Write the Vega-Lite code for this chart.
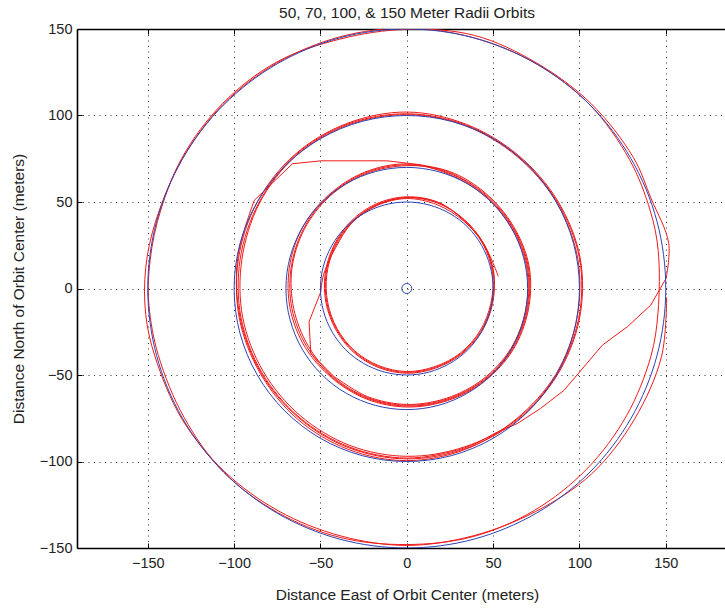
{
  "$schema": "https://vega.github.io/schema/vega-lite/v6.json",
  "width": 648,
  "height": 519,
  "autosize": "none",
  "padding": {"left": 77, "top": 29, "right": 0, "bottom": 60},
  "background": "white",
  "title": {
    "text": "50, 70, 100, & 150 Meter Radii Orbits",
    "font": "Liberation Sans",
    "fontSize": 15.5,
    "fontWeight": "normal",
    "color": "#222222",
    "anchor": "middle",
    "offset": 0,
    "dx": 6
  },
  "config": {
    "view": {"stroke": null},
    "axis": {
      "domainColor": "#000000",
      "domainWidth": 1.6,
      "tickColor": "#000000",
      "tickSize": -5,
      "tickWidth": 1,
      "labelFont": "Liberation Sans",
      "labelFontSize": 14.5,
      "labelColor": "#222222",
      "labelFlush": false,
      "labelOverlap": false,
      "gridColor": "#000000",
      "gridDash": [1, 4.5],
      "gridOpacity": 0.8,
      "gridWidth": 1,
      "titleFont": "Liberation Sans",
      "titleFontSize": 15.5,
      "titleFontWeight": "normal",
      "titleColor": "#222222"
    }
  },
  "datasets": {
    "track": [
      {"leg":1,"i":-2,"x":150.5,"y":-5.0},{"leg":1,"i":-1,"x":147.5,"y":-39.5},
      {"leg":1,"i":0,"x":131.6,"y":-76.0},{"leg":1,"i":1,"x":107.1,"y":-107.1},{"leg":1,"i":2,"x":74.5,"y":-129.0},{"leg":1,"i":3,"x":38.3,"y":-143.0},
      {"leg":1,"i":4,"x":0,"y":-148.5},{"leg":1,"i":5,"x":-38.3,"y":-143.0},{"leg":1,"i":6,"x":-74.3,"y":-128.6},{"leg":1,"i":7,"x":-105.7,"y":-105.7},
      {"leg":1,"i":8,"x":-130.3,"y":-75.3},{"leg":1,"i":9,"x":-145.9,"y":-39.1},{"leg":1,"i":10,"x":-151.2,"y":-15},{"leg":1,"i":11,"x":-151.2,"y":12},
      {"leg":1,"i":12,"x":-145.4,"y":39.0},{"leg":1,"i":13,"x":-129.9,"y":75.0},{"leg":1,"i":14,"x":-106.4,"y":106.4},{"leg":1,"i":15,"x":-75.3,"y":130.3},
      {"leg":1,"i":16,"x":-39.0,"y":145.4},{"leg":1,"i":17,"x":0,"y":150.5},{"leg":1,"i":18,"x":38.8,"y":144.9},{"leg":1,"i":19,"x":75.0,"y":129.9},
      {"leg":1,"i":20,"x":106.1,"y":106.1},{"leg":1,"i":21,"x":129.0,"y":74.5},{"leg":1,"i":22,"x":141.0,"y":45.0},{"leg":1,"i":23,"x":145.6,"y":22.0},
      {"leg":1,"i":24,"x":145.5,"y":-14.0},{"leg":1,"i":25,"x":141.3,"y":-39.5},{"leg":1,"i":26,"x":127.3,"y":-73.5},{"leg":1,"i":27,"x":104.3,"y":-104.3},
      {"leg":1,"i":28,"x":74.0,"y":-128.2},{"leg":1,"i":29,"x":38.4,"y":-143.4},{"leg":1,"i":30,"x":0,"y":-148.0},{"leg":1,"i":31,"x":-38.6,"y":-143.9},
      {"leg":1,"i":32,"x":-74.8,"y":-129.5},{"leg":1,"i":33,"x":-106.1,"y":-106.1},{"leg":1,"i":34,"x":-129.0,"y":-74.5},{"leg":1,"i":35,"x":-143.9,"y":-38.6},
      {"leg":1,"i":36,"x":-149.3,"y":-10},{"leg":1,"i":37,"x":-149.3,"y":10},{"leg":1,"i":38,"x":-144.4,"y":38.7},{"leg":1,"i":39,"x":-130.3,"y":75.3},
      {"leg":1,"i":40,"x":-106.8,"y":106.8},{"leg":1,"i":41,"x":-75.5,"y":130.8},{"leg":1,"i":42,"x":-38.6,"y":144.2},{"leg":1,"i":43,"x":0,"y":149.8},
      {"leg":1,"i":44,"x":39.2,"y":146.3},{"leg":1,"i":45,"x":75.3,"y":130.3},{"leg":1,"i":46,"x":106.8,"y":106.8},{"leg":1,"i":47,"x":131.2,"y":75.8},
      {"leg":1,"i":48,"x":141.5,"y":52.0},{"leg":1,"i":49,"x":151.7,"y":26.2},{"leg":1,"i":50,"x":150.2,"y":5.9},
      {"leg":2,"i":50,"x":150.2,"y":5.9},{"leg":2,"i":51,"x":141.3,"y":-9.6},
      {"leg":2,"i":52,"x":127.8,"y":-22.1},{"leg":2,"i":53,"x":113.3,"y":-32.7},{"leg":2,"i":54,"x":91.1,"y":-58.8},{"leg":2,"i":55,"x":77.4,"y":-69.4},
      {"leg":2,"i":56,"x":63.9,"y":-78.1},{"leg":2,"i":57,"x":50.6,"y":-83.9},
      {"leg":3,"i":57,"x":50.6,"y":-83.9},
      {"leg":3,"i":58,"x":33.5,"y":-92.1},{"leg":3,"i":59,"x":0,"y":-98},{"leg":3,"i":60,"x":-33.3,"y":-91.6},{"leg":3,"i":61,"x":-62.4,"y":-74.3},
      {"leg":3,"i":62,"x":-84.0,"y":-48.5},{"leg":3,"i":63,"x":-96.0,"y":-16.9},{"leg":3,"i":64,"x":-96.5,"y":17.0},{"leg":3,"i":65,"x":-85.7,"y":49.5},
      {"leg":3,"i":66,"x":-64.6,"y":77.0},{"leg":3,"i":67,"x":-34.5,"y":94.9},{"leg":3,"i":68,"x":0,"y":101},{"leg":3,"i":69,"x":34.4,"y":94.4},
      {"leg":3,"i":70,"x":64.3,"y":76.6},{"leg":3,"i":71,"x":87.0,"y":50.3},{"leg":3,"i":72,"x":100.0,"y":17.6},{"leg":3,"i":73,"x":99.5,"y":-17.5},
      {"leg":3,"i":74,"x":86.6,"y":-50.0},{"leg":3,"i":75,"x":63.6,"y":-75.8},
      {"leg":3,"i":76,"x":33.3,"y":-91.6},{"leg":3,"i":77,"x":0,"y":-97},{"leg":3,"i":78,"x":-33.0,"y":-90.7},{"leg":3,"i":79,"x":-61.7,"y":-73.5},
      {"leg":3,"i":80,"x":-83.1,"y":-48.0},{"leg":3,"i":81,"x":-95.0,"y":-16.8},{"leg":3,"i":82,"x":-95.5,"y":16.8},{"leg":3,"i":83,"x":-85.3,"y":49.3},
      {"leg":3,"i":84,"x":-64.3,"y":76.6},{"leg":3,"i":85,"x":-34.4,"y":94.4},{"leg":3,"i":86,"x":0,"y":100.5},{"leg":3,"i":87,"x":34.2,"y":94.0},
      {"leg":3,"i":88,"x":64.0,"y":76.2},{"leg":3,"i":89,"x":86.6,"y":50.0},{"leg":3,"i":90,"x":99.0,"y":17.4},{"leg":3,"i":91,"x":98.5,"y":-17.4},
      {"leg":3,"i":92,"x":86.2,"y":-49.8},{"leg":3,"i":93,"x":63.3,"y":-75.5},
      {"leg":3,"i":94,"x":33.9,"y":-93.0},{"leg":3,"i":95,"x":0,"y":-99.5},{"leg":3,"i":96,"x":-33.9,"y":-93.0},{"leg":3,"i":97,"x":-63.3,"y":-75.5},
      {"leg":3,"i":98,"x":-84.9,"y":-49.0},{"leg":3,"i":99,"x":-97.0,"y":-17.1},{"leg":3,"i":100,"x":-97.5,"y":17.2},{"leg":3,"i":101,"x":-86.6,"y":50.0},
      {"leg":3,"i":102,"x":-64.9,"y":77.4},{"leg":3,"i":103,"x":-34.7,"y":95.4},{"leg":3,"i":104,"x":0,"y":102},{"leg":3,"i":105,"x":34.5,"y":94.9},
      {"leg":3,"i":106,"x":64.6,"y":77.0},{"leg":3,"i":107,"x":87.5,"y":50.5},{"leg":3,"i":108,"x":100.4,"y":17.7},{"leg":3,"i":109,"x":100.0,"y":-17.6},
      {"leg":3,"i":110,"x":87.0,"y":-50.3},{"leg":3,"i":111,"x":64.0,"y":-76.2},
      {"leg":3,"i":112,"x":33.7,"y":-92.6},{"leg":3,"i":113,"x":0,"y":-98.5},{"leg":3,"i":114,"x":-33.5,"y":-92.1},{"leg":3,"i":115,"x":-62.7,"y":-74.7},
      {"leg":3,"i":116,"x":-84.4,"y":-48.8},{"leg":3,"i":117,"x":-96.5,"y":-17.0},{"leg":3,"i":118,"x":-98.0,"y":17.3},{"leg":3,"i":119,"x":-88.3,"y":51.0},
      {"leg":4,"i":119,"x":-88.3,"y":51.0},
      {"leg":4,"i":120,"x":-66.2,"y":72.1},{"leg":4,"i":121,"x":-49.8,"y":73.8},{"leg":4,"i":122,"x":-11.4,"y":73.8},{"leg":4,"i":123,"x":8.1,"y":71.5},
      {"leg":5,"i":123,"x":8.1,"y":71.5},
      {"leg":5,"i":124,"x":24.5,"y":67.2},{"leg":5,"i":125,"x":45.6,"y":54.4},{"leg":5,"i":126,"x":61.5,"y":35.5},{"leg":5,"i":127,"x":70.4,"y":12.4},
      {"leg":5,"i":128,"x":69.9,"y":-12.3},{"leg":5,"i":129,"x":61.1,"y":-35.3},{"leg":5,"i":130,"x":44.7,"y":-53.2},{"leg":5,"i":131,"x":23.4,"y":-64.4},
      {"leg":5,"i":132,"x":0,"y":-68},{"leg":5,"i":133,"x":-23.1,"y":-63.4},{"leg":5,"i":134,"x":-43.1,"y":-51.3},{"leg":5,"i":135,"x":-58.0,"y":-33.5},
      {"leg":5,"i":136,"x":-66.5,"y":-11.7},{"leg":5,"i":137,"x":-67.0,"y":11.8},{"leg":5,"i":138,"x":-59.8,"y":34.5},{"leg":5,"i":139,"x":-45.0,"y":53.6},
      {"leg":5,"i":140,"x":-24.3,"y":66.7},{"leg":5,"i":141,"x":0,"y":71.5},
      {"leg":5,"i":142,"x":24.3,"y":66.7},{"leg":5,"i":143,"x":45.3,"y":54.0},{"leg":5,"i":144,"x":61.1,"y":35.3},{"leg":5,"i":145,"x":69.9,"y":12.3},
      {"leg":5,"i":146,"x":69.4,"y":-12.2},{"leg":5,"i":147,"x":60.6,"y":-35.0},{"leg":5,"i":148,"x":44.4,"y":-52.9},{"leg":5,"i":149,"x":23.3,"y":-63.9},
      {"leg":5,"i":150,"x":0,"y":-67.5},{"leg":5,"i":151,"x":-22.9,"y":-63.0},{"leg":5,"i":152,"x":-42.7,"y":-50.9},{"leg":5,"i":153,"x":-57.2,"y":-33.0},
      {"leg":5,"i":154,"x":-65.5,"y":-11.5},{"leg":5,"i":155,"x":-66.5,"y":11.7},{"leg":5,"i":156,"x":-59.3,"y":34.3},{"leg":5,"i":157,"x":-44.7,"y":53.2},
      {"leg":5,"i":158,"x":-24.1,"y":66.2},{"leg":5,"i":159,"x":0,"y":71},
      {"leg":5,"i":160,"x":24.6,"y":67.7},{"leg":5,"i":161,"x":46.0,"y":54.8},{"leg":5,"i":162,"x":61.9,"y":35.8},{"leg":5,"i":163,"x":70.9,"y":12.5},
      {"leg":5,"i":164,"x":70.4,"y":-12.4},{"leg":5,"i":165,"x":61.5,"y":-35.5},{"leg":5,"i":166,"x":45.0,"y":-53.6},{"leg":5,"i":167,"x":23.6,"y":-64.8},
      {"leg":5,"i":168,"x":0,"y":-68.5},{"leg":5,"i":169,"x":-23.3,"y":-63.9},{"leg":5,"i":170,"x":-43.4,"y":-51.7},{"leg":5,"i":171,"x":-58.9,"y":-34.0},
      {"leg":5,"i":172,"x":-67.5,"y":-11.9},{"leg":5,"i":173,"x":-68.0,"y":12.0},{"leg":5,"i":174,"x":-60.6,"y":35.0},{"leg":5,"i":175,"x":-45.3,"y":54.0},
      {"leg":5,"i":176,"x":-24.5,"y":67.2},{"leg":5,"i":177,"x":0,"y":72},
      {"leg":5,"i":178,"x":24.1,"y":66.2},{"leg":5,"i":179,"x":45.0,"y":53.6},{"leg":5,"i":180,"x":60.6,"y":35.0},{"leg":5,"i":181,"x":69.4,"y":12.2},
      {"leg":5,"i":182,"x":68.9,"y":-12.2},{"leg":5,"i":183,"x":60.2,"y":-34.8},{"leg":5,"i":184,"x":44.0,"y":-52.5},{"leg":5,"i":185,"x":23.1,"y":-63.4},
      {"leg":5,"i":186,"x":0,"y":-67},{"leg":5,"i":187,"x":-22.7,"y":-62.5},{"leg":5,"i":188,"x":-42.4,"y":-50.6},
      {"leg":6,"i":188,"x":-42.4,"y":-50.6},
      {"leg":6,"i":189,"x":-55.6,"y":-37.5},{"leg":6,"i":190,"x":-56.6,"y":-19.2},{"leg":6,"i":191,"x":-49.8,"y":-1.9},
      {"leg":7,"i":191,"x":-49.8,"y":-1.9},
      {"leg":7,"i":192,"x":-48.2,"y":8.0},{"leg":7,"i":193,"x":-41.2,"y":23.6},{"leg":7,"i":194,"x":-31.4,"y":38.4},{"leg":7,"i":195,"x":-17.0,"y":48.3},
      {"leg":7,"i":196,"x":0.5,"y":52.6},{"leg":7,"i":197,"x":18.3,"y":49.6},{"leg":7,"i":198,"x":33.6,"y":39.0},{"leg":7,"i":199,"x":44.9,"y":25.0},
      {"leg":7,"i":200,"x":50.5,"y":8.5},
      {"leg":7,"i":201,"x":49.2,"y":-8.7},{"leg":7,"i":202,"x":42.9,"y":-24.8},{"leg":7,"i":203,"x":31.5,"y":-37.5},{"leg":7,"i":204,"x":16.6,"y":-45.6},
      {"leg":7,"i":205,"x":0,"y":-48.5},{"leg":7,"i":206,"x":-16.4,"y":-45.1},{"leg":7,"i":207,"x":-30.5,"y":-36.4},{"leg":7,"i":208,"x":-40.7,"y":-23.5},
      {"leg":7,"i":209,"x":-46.3,"y":-8.2},{"leg":7,"i":210,"x":-46.8,"y":8.2},{"leg":7,"i":211,"x":-42.0,"y":24.3},{"leg":7,"i":212,"x":-32.1,"y":38.3},
      {"leg":7,"i":213,"x":-17.6,"y":48.4},{"leg":7,"i":214,"x":0,"y":52.5},{"leg":7,"i":215,"x":18.0,"y":49.3},{"leg":7,"i":216,"x":33.4,"y":39.8},
      {"leg":7,"i":217,"x":44.6,"y":25.8},{"leg":7,"i":218,"x":50.2,"y":8.9},
      {"leg":7,"i":219,"x":49.7,"y":-8.8},{"leg":7,"i":220,"x":43.3,"y":-25.0},{"leg":7,"i":221,"x":31.8,"y":-37.9},{"leg":7,"i":222,"x":16.8,"y":-46.0},
      {"leg":7,"i":223,"x":0,"y":-49},{"leg":7,"i":224,"x":-16.6,"y":-45.6},{"leg":7,"i":225,"x":-30.9,"y":-36.8},{"leg":7,"i":226,"x":-41.1,"y":-23.8},
      {"leg":7,"i":227,"x":-46.8,"y":-8.2},{"leg":7,"i":228,"x":-47.3,"y":8.3},{"leg":7,"i":229,"x":-42.4,"y":24.5},{"leg":7,"i":230,"x":-32.5,"y":38.7},
      {"leg":7,"i":231,"x":-17.8,"y":48.9},{"leg":7,"i":232,"x":0,"y":53},{"leg":7,"i":233,"x":18.3,"y":49.8},{"leg":7,"i":234,"x":33.1,"y":39.4},
      {"leg":7,"i":235,"x":44.2,"y":25.5},{"leg":7,"i":236,"x":49.7,"y":8.8},
      {"leg":7,"i":237,"x":48.7,"y":-8.6},{"leg":7,"i":238,"x":42.4,"y":-24.5},{"leg":7,"i":239,"x":31.2,"y":-37.2},{"leg":7,"i":240,"x":16.4,"y":-45.1},
      {"leg":7,"i":241,"x":0,"y":-48},{"leg":7,"i":242,"x":-16.2,"y":-44.6},{"leg":7,"i":243,"x":-30.2,"y":-36.0},{"leg":7,"i":244,"x":-40.3,"y":-23.3},
      {"leg":7,"i":245,"x":-45.8,"y":-8.1},{"leg":7,"i":246,"x":-46.3,"y":8.2},{"leg":7,"i":247,"x":-41.6,"y":24.0},{"leg":7,"i":248,"x":-31.8,"y":37.9},
      {"leg":7,"i":249,"x":-17.4,"y":47.9},{"leg":7,"i":250,"x":0,"y":52},{"leg":7,"i":251,"x":17.6,"y":48.4},{"leg":7,"i":252,"x":32.8,"y":39.1},
      {"leg":7,"i":253,"x":44.6,"y":25.8},{"leg":7,"i":254,"x":53.0,"y":7.0}
    ],
    "rings": [
      {"r":50,"i":0,"x":50,"y":0},{"r":50,"i":1,"x":48.3,"y":12.9},{"r":50,"i":2,"x":43.3,"y":25},{"r":50,"i":3,"x":35.4,"y":35.4},
      {"r":50,"i":4,"x":25,"y":43.3},{"r":50,"i":5,"x":12.9,"y":48.3},{"r":50,"i":6,"x":0,"y":50},{"r":50,"i":7,"x":-12.9,"y":48.3},
      {"r":50,"i":8,"x":-25,"y":43.3},{"r":50,"i":9,"x":-35.4,"y":35.4},{"r":50,"i":10,"x":-43.3,"y":25},{"r":50,"i":11,"x":-48.3,"y":12.9},
      {"r":50,"i":12,"x":-50,"y":0},{"r":50,"i":13,"x":-48.3,"y":-12.9},{"r":50,"i":14,"x":-43.3,"y":-25},{"r":50,"i":15,"x":-35.4,"y":-35.4},
      {"r":50,"i":16,"x":-25,"y":-43.3},{"r":50,"i":17,"x":-12.9,"y":-48.3},{"r":50,"i":18,"x":0,"y":-50},{"r":50,"i":19,"x":12.9,"y":-48.3},
      {"r":50,"i":20,"x":25,"y":-43.3},{"r":50,"i":21,"x":35.4,"y":-35.4},{"r":50,"i":22,"x":43.3,"y":-25},{"r":50,"i":23,"x":48.3,"y":-12.9},
      {"r":70,"i":0,"x":70,"y":0},{"r":70,"i":1,"x":67.6,"y":18.1},{"r":70,"i":2,"x":60.6,"y":35},{"r":70,"i":3,"x":49.5,"y":49.5},
      {"r":70,"i":4,"x":35,"y":60.6},{"r":70,"i":5,"x":18.1,"y":67.6},{"r":70,"i":6,"x":0,"y":70},{"r":70,"i":7,"x":-18.1,"y":67.6},
      {"r":70,"i":8,"x":-35,"y":60.6},{"r":70,"i":9,"x":-49.5,"y":49.5},{"r":70,"i":10,"x":-60.6,"y":35},{"r":70,"i":11,"x":-67.6,"y":18.1},
      {"r":70,"i":12,"x":-70,"y":0},{"r":70,"i":13,"x":-67.6,"y":-18.1},{"r":70,"i":14,"x":-60.6,"y":-35},{"r":70,"i":15,"x":-49.5,"y":-49.5},
      {"r":70,"i":16,"x":-35,"y":-60.6},{"r":70,"i":17,"x":-18.1,"y":-67.6},{"r":70,"i":18,"x":0,"y":-70},{"r":70,"i":19,"x":18.1,"y":-67.6},
      {"r":70,"i":20,"x":35,"y":-60.6},{"r":70,"i":21,"x":49.5,"y":-49.5},{"r":70,"i":22,"x":60.6,"y":-35},{"r":70,"i":23,"x":67.6,"y":-18.1},
      {"r":100,"i":0,"x":100,"y":0},{"r":100,"i":1,"x":96.6,"y":25.9},{"r":100,"i":2,"x":86.6,"y":50},{"r":100,"i":3,"x":70.7,"y":70.7},
      {"r":100,"i":4,"x":50,"y":86.6},{"r":100,"i":5,"x":25.9,"y":96.6},{"r":100,"i":6,"x":0,"y":100},{"r":100,"i":7,"x":-25.9,"y":96.6},
      {"r":100,"i":8,"x":-50,"y":86.6},{"r":100,"i":9,"x":-70.7,"y":70.7},{"r":100,"i":10,"x":-86.6,"y":50},{"r":100,"i":11,"x":-96.6,"y":25.9},
      {"r":100,"i":12,"x":-100,"y":0},{"r":100,"i":13,"x":-96.6,"y":-25.9},{"r":100,"i":14,"x":-86.6,"y":-50},{"r":100,"i":15,"x":-70.7,"y":-70.7},
      {"r":100,"i":16,"x":-50,"y":-86.6},{"r":100,"i":17,"x":-25.9,"y":-96.6},{"r":100,"i":18,"x":0,"y":-100},{"r":100,"i":19,"x":25.9,"y":-96.6},
      {"r":100,"i":20,"x":50,"y":-86.6},{"r":100,"i":21,"x":70.7,"y":-70.7},{"r":100,"i":22,"x":86.6,"y":-50},{"r":100,"i":23,"x":96.6,"y":-25.9},
      {"r":150,"i":0,"x":150,"y":0},{"r":150,"i":1,"x":144.9,"y":38.8},{"r":150,"i":2,"x":129.9,"y":75},{"r":150,"i":3,"x":106.1,"y":106.1},
      {"r":150,"i":4,"x":75,"y":129.9},{"r":150,"i":5,"x":38.8,"y":144.9},{"r":150,"i":6,"x":0,"y":150},{"r":150,"i":7,"x":-38.8,"y":144.9},
      {"r":150,"i":8,"x":-75,"y":129.9},{"r":150,"i":9,"x":-106.1,"y":106.1},{"r":150,"i":10,"x":-129.9,"y":75},{"r":150,"i":11,"x":-144.9,"y":38.8},
      {"r":150,"i":12,"x":-150,"y":0},{"r":150,"i":13,"x":-144.9,"y":-38.8},{"r":150,"i":14,"x":-129.9,"y":-75},{"r":150,"i":15,"x":-106.1,"y":-106.1},
      {"r":150,"i":16,"x":-75,"y":-129.9},{"r":150,"i":17,"x":-38.8,"y":-144.9},{"r":150,"i":18,"x":0,"y":-150},{"r":150,"i":19,"x":38.8,"y":-144.9},
      {"r":150,"i":20,"x":75,"y":-129.9},{"r":150,"i":21,"x":106.1,"y":-106.1},{"r":150,"i":22,"x":129.9,"y":-75},{"r":150,"i":23,"x":144.9,"y":-38.8}
    ],
    "center": [{"x": 0, "y": 0}]
  },
  "layer": [
    {
      "data": {"name": "track"},
      "transform": [{"filter": "datum.leg % 2 == 1"}],
      "mark": {"type": "line", "interpolate": "catmull-rom", "color": "#ee1a1a", "strokeWidth": 1, "clip": true},
      "encoding": {
        "x": {"field": "x", "type": "quantitative",
              "scale": {"domain": [-191, 184.3], "nice": false, "zero": false},
              "axis": {"orient": "top", "labels": false, "grid": false, "title": null,
                       "values": [-150, -100, -50, 0, 50, 100, 150]}},
        "y": {"field": "y", "type": "quantitative",
              "scale": {"domain": [-150, 150], "nice": false, "zero": false},
              "axis": {"orient": "left", "values": [-150, -100, -50, 0, 50, 100, 150], "grid": true,
                       "labelPadding": 10, "titlePadding": 13,
                       "title": "Distance North of Orbit Center (meters)"}},
        "detail": {"field": "leg", "type": "nominal"},
        "order": {"field": "i", "type": "quantitative"}
      }
    },
    {
      "data": {"name": "track"},
      "transform": [{"filter": "datum.leg % 2 == 0"}],
      "mark": {"type": "line", "color": "#ee1a1a", "strokeWidth": 1, "clip": true},
      "encoding": {
        "x": {"field": "x", "type": "quantitative",
              "scale": {"domain": [-191, 184.3], "nice": false, "zero": false}, "axis": null},
        "y": {"field": "y", "type": "quantitative",
              "scale": {"domain": [-150, 150], "nice": false, "zero": false}, "axis": null},
        "detail": {"field": "leg", "type": "nominal"},
        "order": {"field": "i", "type": "quantitative"}
      }
    },
    {
      "data": {"name": "rings"},
      "mark": {"type": "line", "interpolate": "cardinal-closed", "color": "#2c44b3", "strokeWidth": 1, "clip": true},
      "encoding": {
        "x": {"field": "x", "type": "quantitative",
              "scale": {"domain": [-191, 184.3], "nice": false, "zero": false},
              "axis": {"orient": "bottom", "values": [-150, -100, -50, 0, 50, 100, 150], "grid": true,
                       "labelPadding": 13, "titlePadding": 18, "titleX": 330,
                       "title": "Distance East of Orbit Center (meters)"}},
        "y": {"field": "y", "type": "quantitative",
              "scale": {"domain": [-150, 150], "nice": false, "zero": false},
              "axis": null},
        "detail": {"field": "r", "type": "nominal"},
        "order": {"field": "i", "type": "quantitative"}
      }
    },
    {
      "data": {"name": "center"},
      "mark": {"type": "point", "shape": "circle", "filled": false, "size": 100, "color": "#2c44b3", "strokeWidth": 1, "opacity": 1},
      "encoding": {
        "x": {"field": "x", "type": "quantitative",
              "scale": {"domain": [-191, 184.3], "nice": false, "zero": false}, "axis": null},
        "y": {"field": "y", "type": "quantitative",
              "scale": {"domain": [-150, 150], "nice": false, "zero": false}, "axis": null}
      }
    }
  ],
  "resolve": {"axis": {"x": "independent", "y": "independent"}}
}
